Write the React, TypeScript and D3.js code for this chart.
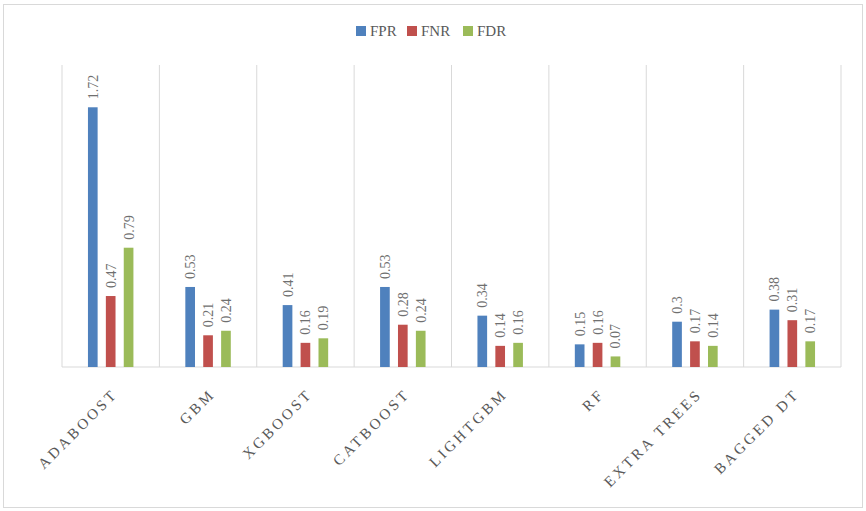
import * as d3 from 'd3'

const categories = ['ADABOOST', 'GBM', 'XGBOOST', 'CATBOOST', 'LIGHTGBM', 'RF', 'EXTRA TREES', 'BAGGED DT']
const seriesNames = ['FPR', 'FNR', 'FDR']
const fpr = [1.72, 0.53, 0.41, 0.53, 0.34, 0.15, 0.3, 0.38]
const fnr = [0.47, 0.21, 0.16, 0.28, 0.14, 0.16, 0.17, 0.31]
const fdr = [0.79, 0.24, 0.19, 0.24, 0.16, 0.07, 0.14, 0.17]
const colors = ['#4F81BD', '#C0504D', '#9BBB59']

const W = 866
const H = 511
const margin = { top: 65, right: 25, bottom: 144, left: 62 }
const font = 'Liberation Serif'

export default function App() {
  const series = [fpr, fnr, fdr]
  const innerW = W - margin.left - margin.right
  const innerH = H - margin.top - margin.bottom

  const x = d3.scaleBand<string>().domain(categories).range([0, innerW]).paddingInner(0).paddingOuter(0)
  const xs = d3.scaleBand<string>().domain(seriesNames).range([0, x.bandwidth()]).paddingInner(0.46).paddingOuter(1.45)
  const y = d3.scaleLinear().domain([0, 2]).range([innerH, 0])

  // legend layout
  const legendX = [356, 407, 463]

  return (
    <svg width={W} height={H} style={{ position: 'absolute', left: 0, top: 0, background: '#fff', fontFamily: font }}>
      <rect x={3.5} y={4.5} width={859} height={503} fill="#fff" stroke="#D9D9D9" />

      {/* legend */}
      {seriesNames.map((s, i) => (
        <g key={s} transform={`translate(${legendX[i]},31)`}>
          <rect x={0} y={-5} width={10} height={10} fill={colors[i]} />
          <text x={14} y={0} dy="0.35em" fontSize={15} fill="#595959" style={{ fontFamily: font }}>{s}</text>
        </g>
      ))}

      <g transform={`translate(${margin.left},${margin.top})`}>
        {/* vertical gridlines at category boundaries */}
        {[...categories.map(c => x(c)!), innerW].map((gx, i) => (
          <line key={i} x1={gx} x2={gx} y1={0} y2={innerH} stroke="#D9D9D9" strokeWidth={1} />
        ))}
        <line x1={0} x2={innerW} y1={innerH} y2={innerH} stroke="#D9D9D9" strokeWidth={1} />

        {categories.map((c, ci) => (
          <g key={c} transform={`translate(${x(c)},0)`}>
            {series.map((vals, si) => {
              const bx = xs(seriesNames[si])!
              const by = y(vals[ci])
              const cx = bx + xs.bandwidth() / 2
              return (
                <g key={si}>
                  <rect x={bx} y={by} width={xs.bandwidth()} height={innerH - by} fill={colors[si]} />
                  <text
                    transform={`translate(${cx + 5},${by - 8}) rotate(-90)`}
                    fontSize={14}
                    fill="#6f6f6f"
                    textAnchor="start"
                    style={{ fontFamily: font }}
                  >
                    {String(vals[ci])}
                  </text>
                </g>
              )
            })}
          </g>
        ))}

        {/* category labels */}
        {categories.map(c => (
          <text
            key={c}
            transform={`translate(${x(c)! + x.bandwidth() / 2 + 8},${innerH + 28}) rotate(-45)`}
            textAnchor="end"
            fontSize={15}
            letterSpacing={3}
            fill="#595959"
            style={{ fontFamily: font }}
          >
            {c}
          </text>
        ))}
      </g>
    </svg>
  )
}
